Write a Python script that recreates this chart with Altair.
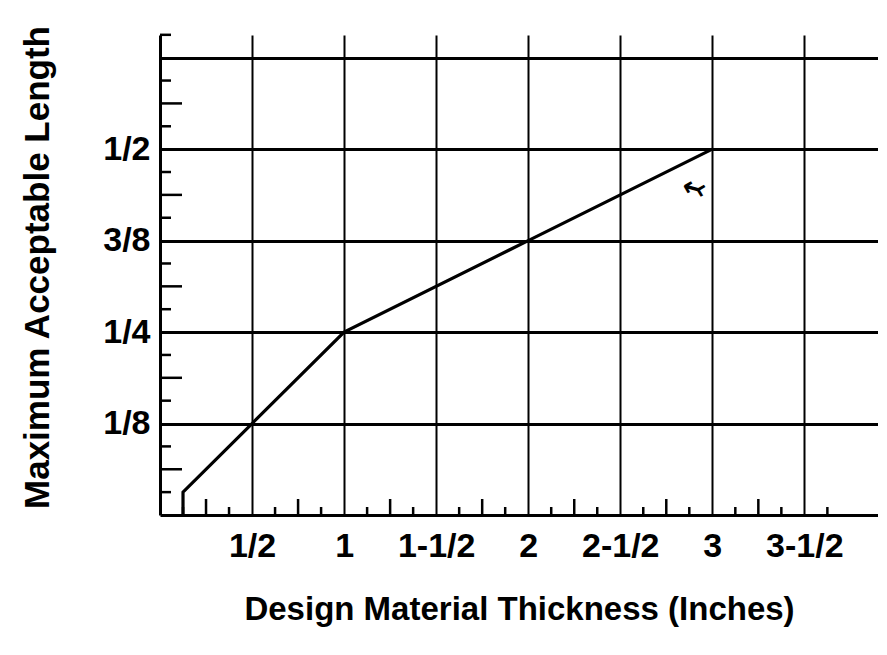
import altair as alt
import pandas as pd

# Curve: maximum acceptable length vs design material thickness (inches)
thickness = [0.125, 0.125, 0.5, 1.0, 2.0, 3.0]
max_length = [0.0, 0.03125, 0.125, 0.25, 0.375, 0.5]

# Grid / label values
x_grid_values = [0.5, 1.0, 1.5, 2.0, 2.5, 3.0, 3.5]
x_grid_labels = ["1/2", "1", "1-1/2", "2", "2-1/2", "3", "3-1/2"]
y_grid_values = [0.125, 0.25, 0.375, 0.5, 0.625]
y_grid_labels = ["1/8", "1/4", "3/8", "1/2", ""]

# Minor ticks (1/8 inch on x, 1/32 inch on y)
x_minor_long = [0.25, 0.75, 1.25, 1.75, 2.25, 2.75, 3.25]
x_minor_short = [0.125, 0.375, 0.625, 0.875, 1.125, 1.375, 1.625, 1.875,
                 2.125, 2.375, 2.625, 2.875, 3.125, 3.375, 3.625]
y_minor_long = [0.0625, 0.1875, 0.3125, 0.4375, 0.5625]
y_minor_short = [0.03125, 0.09375, 0.15625, 0.21875, 0.28125, 0.34375,
                 0.40625, 0.46875, 0.53125, 0.59375, 0.65625]

# Hand-drawn arrow annotation
note_x = [2.9]
note_y = [0.445]
note_text = ["\u21a2"]

W, H = 718, 480
X_DOMAIN = [0, 3.9]
Y_DOMAIN = [0, 0.656]
FONT = "Liberation Sans"


def label_expr(values, labels):
    return "".join(f"datum.value == {v} ? '{l}' : " for v, l in zip(values, labels)) + "''"


xscale = alt.Scale(domain=X_DOMAIN, nice=False, zero=False)
yscale = alt.Scale(domain=Y_DOMAIN, nice=False, zero=False)

x_axis = alt.Axis(values=x_grid_values, labelExpr=label_expr(x_grid_values, x_grid_labels),
                  grid=True, gridColor="black", gridWidth=2, gridOpacity=1,
                  ticks=False, domainColor="black", domainWidth=3,
                  labelFont=FONT, labelFontSize=34, labelFontWeight="bold", labelColor="black",
                  labelPadding=14,
                  title="Design Material Thickness (Inches)",
                  titleFont=FONT, titleFontSize=33, titleFontWeight="bold", titleColor="black",
                  titleBaseline="alphabetic", titleY=104)
y_axis = alt.Axis(values=y_grid_values, labelExpr=label_expr(y_grid_values, y_grid_labels),
                  grid=True, gridColor="black", gridWidth=3, gridOpacity=1,
                  ticks=False, domainColor="black", domainWidth=3,
                  labelFont=FONT, labelFontSize=34, labelFontWeight="bold", labelColor="black",
                  labelPadding=10,
                  title="Maximum Acceptable Length",
                  titleFont=FONT, titleFontSize=35, titleFontWeight="bold", titleColor="black",
                  titleAngle=270, titleBaseline="alphabetic", titleAlign="center",
                  titleX=-112, titleY=232)

X = lambda: alt.X("t:Q", scale=xscale, axis=x_axis)
Y = lambda: alt.Y("L:Q", scale=yscale, axis=y_axis)

curve_df = pd.DataFrame({"t": thickness, "L": max_length, "order": list(range(len(thickness)))})

curve = alt.Chart(curve_df).mark_line(color="black", strokeWidth=3.2).encode(
    x=X(), y=Y(), order="order:Q")


def y_ticks(vals, length):
    df = pd.DataFrame({"L": vals})
    return alt.Chart(df).mark_rule(color="black", strokeWidth=2.5).encode(
        y=Y(), x=alt.value(0), x2=alt.value(length))


def x_ticks(vals, length):
    df = pd.DataFrame({"t": vals})
    return alt.Chart(df).mark_rule(color="black", strokeWidth=2.5).encode(
        x=X(), y=alt.value(H), y2=alt.value(H - length))


note_df = pd.DataFrame({"t": note_x, "L": note_y, "text": note_text})
note = alt.Chart(note_df).mark_text(fontSize=28, fontWeight="bold", color="black", angle=15,
                                    font="DejaVu Sans").encode(
    x=X(), y=Y(), text="text:N")

chart = alt.layer(
    curve,
    y_ticks(y_minor_long, 22), y_ticks(y_minor_short, 11),
    x_ticks(x_minor_long, 16), x_ticks(x_minor_short, 8),
    note,
).properties(
    width=W, height=H,
    autosize=alt.AutoSizeParams(type="none"),
    padding={"left": 152, "top": 27, "right": 0, "bottom": 120},
    background="white",
).configure_view(stroke=None)

chart.save("out.html", embed_options={"renderer": "svg", "actions": False})
